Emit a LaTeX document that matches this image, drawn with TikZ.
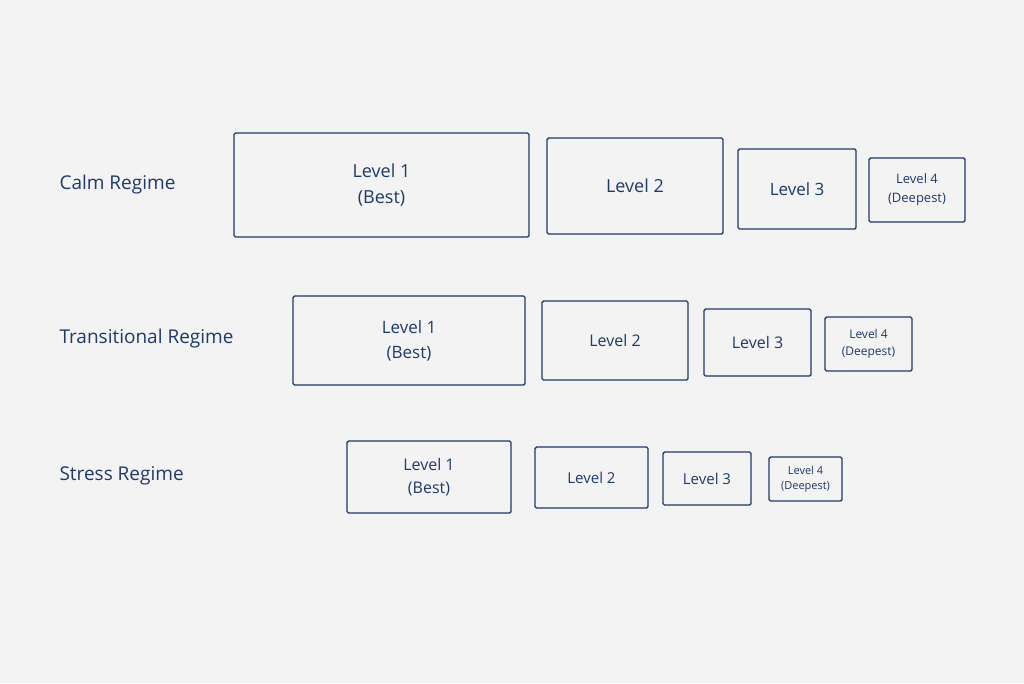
\documentclass[tikz,border=0pt]{standalone}
\usepackage{fontspec}
\setmainfont{Open Sans}
\begin{document}
\begin{tikzpicture}[x=1pt,y=-1pt,
  box/.style={draw=navy,line width=1.4pt,rounded corners=1.5pt,text=navy,align=center,inner sep=0pt},
  lab/.style={text=navy,anchor=west,font=\fontsize{19}{22}\selectfont}]
\definecolor{navy}{HTML}{1F3A68}
\definecolor{bg}{HTML}{F3F3F3}
\fill[bg] (0,0) rectangle (1024,683);
\useasboundingbox (0,0) rectangle (1024,683);
\newcommand{\bx}[6]{\node[box,minimum width=#3-#2,minimum height=#5-#4,font=\fontsize{#6}{#6*1.4}\selectfont] (#1) at ({(#2+#3)/2},{(#4+#5)/2}) {};}
% row 1
\node[lab] (r1) at (56,185) {Calm Regime};
\node[box,minimum width=295,minimum height=104,font=\fontsize{18}{26}\selectfont] (a1) at (381.5,185) {Level 1\\(Best)};
\node[box,minimum width=176,minimum height=96,font=\fontsize{18}{26}\selectfont] (a2) at (635,186) {Level 2};
\node[box,minimum width=118,minimum height=80,font=\fontsize{17}{24}\selectfont] (a3) at (797,189) {Level 3};
\node[box,minimum width=96,minimum height=64,font=\fontsize{13}{19}\selectfont] (a4) at (917,190) {Level 4\\(Deepest)};
% row 2
\node[lab] (r2) at (56,339) {Transitional Regime};
\node[box,minimum width=232,minimum height=89,font=\fontsize{17}{25}\selectfont] (b1) at (409,340.5) {Level 1\\(Best)};
\node[box,minimum width=146,minimum height=79,font=\fontsize{16}{23}\selectfont] (b2) at (615,340.5) {Level 2};
\node[box,minimum width=107,minimum height=67,font=\fontsize{16}{23}\selectfont] (b3) at (757.5,342.5) {Level 3};
\node[box,minimum width=87,minimum height=54,font=\fontsize{12}{17}\selectfont] (b4) at (868.5,344) {Level 4\\(Deepest)};
% row 3
\node[lab] (r3) at (56,476) {Stress Regime};
\node[box,minimum width=164,minimum height=72,font=\fontsize{16}{23}\selectfont] (c1) at (429,477) {Level 1\\(Best)};
\node[box,minimum width=113,minimum height=61,font=\fontsize{15}{21}\selectfont] (c2) at (591.5,477.5) {Level 2};
\node[box,minimum width=88,minimum height=53,font=\fontsize{15}{21}\selectfont] (c3) at (707,478.5) {Level 3};
\node[box,minimum width=73,minimum height=44,font=\fontsize{11}{15}\selectfont] (c4) at (805.5,479) {Level 4\\(Deepest)};
\end{tikzpicture}
\end{document}
